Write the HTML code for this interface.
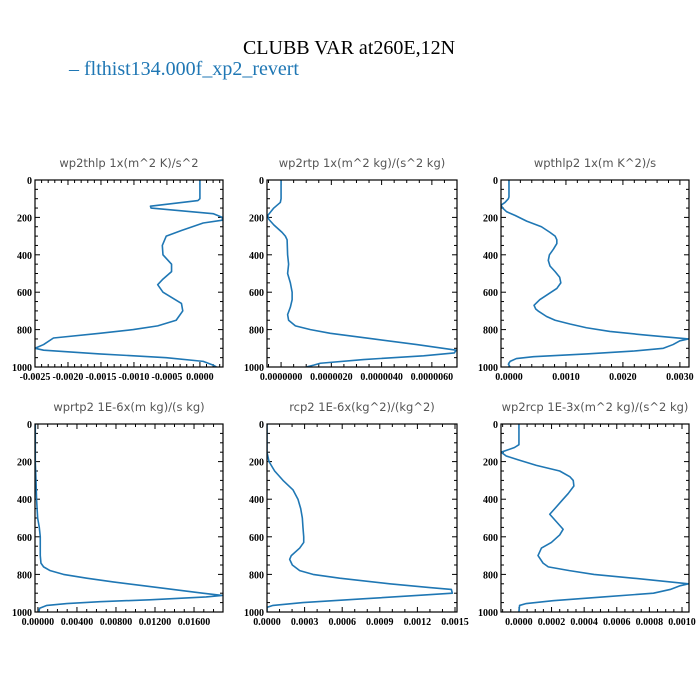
<!DOCTYPE html>
<html><head><meta charset="utf-8"><style>
html,body{margin:0;padding:0;background:#fff;}
svg{display:block;}
.ttl{font-family:"Liberation Serif",serif;font-size:20px;fill:#000;}
.leg{font-family:"Liberation Serif",serif;font-size:20px;fill:#1f77b4;}
.pt{font-family:"DejaVu Sans",sans-serif;font-size:11.5px;fill:#555;}
.tk{font-family:"Liberation Serif",serif;font-size:10px;font-weight:bold;fill:#000;}
</style></head><body>
<svg id="chart" width="700" height="700" viewBox="0 0 700 700" xmlns="http://www.w3.org/2000/svg">
<text class="ttl" x="349" y="54" text-anchor="middle">CLUBB VAR at260E,12N</text>
<text class="leg" x="69" y="75">– flthist134.000f_xp2_revert</text>
</svg>
<script>
const pressure1 = [0,100,110,140,150,180,200,215,230,270,300,350,400,450,490,530,560,600,660,700,750,780,800,820,845,880,900,910,930,950,970,990,1000];
const values1 = [0,0,-0.00003,-0.00075,-0.00074,0.0002,0.00034,0.00034,0.00005,-0.00028,-0.00051,-0.00057,-0.00056,-0.00043,-0.00043,-0.00056,-0.00064,-0.00056,-0.00028,-0.00026,-0.00036,-0.00064,-0.00101,-0.00152,-0.00222,-0.00237,-0.0025,-0.00237,-0.00152,-0.00051,0.00005,0.0002,0.00025];
const ticks1 = ["-0.0025","-0.0020","-0.0015","-0.0010","-0.0005","0.0000"];

const pressure2 = [0,100,120,150,190,210,240,280,300,320,400,450,500,550,600,640,680,720,750,780,800,820,850,880,910,925,940,960,980,990,1000];
const values2 = [0,0,-0.03e-6,-0.29e-6,-0.53e-6,-0.49e-6,-0.29e-6,0.04e-6,0.17e-6,0.24e-6,0.26e-6,0.3e-6,0.26e-6,0.37e-6,0.44e-6,0.44e-6,0.37e-6,0.26e-6,0.3e-6,0.57e-6,1.17e-6,1.96e-6,3.68e-6,5.4e-6,6.97e-6,6.89e-6,5.67e-6,3.28e-6,1.56e-6,1.3e-6,1.0e-6];
const ticks2 = ["0.0000000","0.0000020","0.0000040","0.0000060"];

const pressure3 = [0,90,100,120,135,150,170,190,220,250,280,300,320,340,370,400,430,460,490,520,550,580,610,640,670,690,700,730,750,770,790,810,830,850,860,880,900,915,930,945,955,970,985,1000];
const values3 = [0,0,-0.00001,-0.00007,-0.00014,-0.00011,-0.00004,0.00011,0.00031,0.00057,0.00072,0.00081,0.00084,0.00084,0.00078,0.00071,0.00069,0.00072,0.00081,0.00089,0.00091,0.00084,0.00069,0.00054,0.00044,0.00047,0.00051,0.00066,0.00081,0.00107,0.00136,0.00177,0.00242,0.00315,0.003,0.00288,0.00271,0.00218,0.00136,0.00043,0.00013,0.00002,-0.00001,0.00002];
const ticks3 = ["0.0000","0.0010","0.0020","0.0030"];

const pressure4 = [0,200,300,400,500,550,600,650,700,740,760,780,800,820,840,860,880,900,912,920,935,945,955,965,980,1000];
const values4 = [-0.00027,-0.00027,-0.0002,-0.00014,-0.00003,0.00014,0.00024,0.00024,0.00024,0.00031,0.00058,0.00126,0.00262,0.005,0.00772,0.01078,0.01384,0.0169,0.01888,0.01724,0.01146,0.00636,0.00296,0.00092,0.00017,0.0001];
const ticks4 = ["0.00000","0.00400","0.00800","0.01200","0.01600"];

const pressure5 = [0,150,200,250,300,350,400,450,500,550,600,630,660,700,720,750,780,800,820,850,870,880,900,910,930,950,965,975,1000];
const values5 = [0,0,0.000016,0.000061,0.000128,0.000207,0.000247,0.000269,0.000282,0.000287,0.000293,0.000293,0.000261,0.000194,0.000181,0.000202,0.000261,0.000367,0.00058,0.000979,0.001298,0.001471,0.001479,0.001245,0.000766,0.000287,0.000048,0,0];
const ticks5 = ["0.0000","0.0003","0.0006","0.0009","0.0012","0.0015"];

const pressure6 = [0,110,125,150,170,190,220,250,280,300,330,370,400,450,480,520,560,590,630,660,700,740,760,780,800,820,850,860,880,900,920,940,955,965,1000];
const values6 = [0,0,-0.000027,-0.000109,-0.000078,-0.000006,0.000107,0.00025,0.000312,0.000333,0.000337,0.000302,0.000271,0.00022,0.000189,0.00023,0.000271,0.00025,0.000199,0.000138,0.000117,0.000148,0.00018,0.00031,0.00046,0.0007,0.00104,0.00099,0.000928,0.000825,0.000517,0.000209,0.000045,0.000004,0];
const ticks6 = ["0.0000","0.0002","0.0004","0.0006","0.0008","0.0010"];

const yTicks = ["0","200","400","600","800","1000"];

const NS = "http://www.w3.org/2000/svg";
const svg = document.getElementById("chart");
function mk(tag, attrs, parent){
  const e = document.createElementNS(NS, tag);
  for (const k in attrs) e.setAttribute(k, attrs[k]);
  (parent||svg).appendChild(e);
  return e;
}
const panels = [
  {name:"wp2thlp", title:"wp2thlp  1x(m^2 K)/s^2", p:pressure1, v:values1, t:ticks1, x0:35, x1:223, y0:180, y1:367, xmin:-0.0025, xmax:0.00035, tstep:0.0005, tstart:-0.0025, minor:5},
  {name:"wp2rtp", title:"wp2rtp  1x(m^2 kg)/(s^2 kg)", p:pressure2, v:values2, t:ticks2, x0:267, x1:457, y0:180, y1:367, xmin:-0.56e-6, xmax:7.0e-6, tstep:2e-6, tstart:0, minor:4},
  {name:"wpthlp2", title:"wpthlp2  1x(m K^2)/s", p:pressure3, v:values3, t:ticks3, x0:501, x1:689, y0:180, y1:367, xmin:-0.00014, xmax:0.00316, tstep:0.001, tstart:0, minor:5},
  {name:"wprtp2", title:"wprtp2  1E-6x(m kg)/(s kg)", p:pressure4, v:values4, t:ticks4, x0:35, x1:223, y0:424, y1:612, xmin:-0.0003, xmax:0.01897, tstep:0.004, tstart:0, minor:4},
  {name:"rcp2", title:"rcp2  1E-6x(kg^2)/(kg^2)", p:pressure5, v:values5, t:ticks5, x0:267, x1:457, y0:424, y1:612, xmin:0, xmax:0.001516, tstep:0.0003, tstart:0, minor:3},
  {name:"wp2rcp", title:"wp2rcp  1E-3x(m^2 kg)/(s^2 kg)", p:pressure6, v:values6, t:ticks6, x0:501, x1:689, y0:424, y1:612, xmin:-0.00011, xmax:0.001043, tstep:0.0002, tstart:0, minor:4}
];
panels.forEach((P, idx) => {
  const g = mk("g", {});
  
  
  const xs = v => P.x0 + (v - P.xmin) / (P.xmax - P.xmin) * (P.x1 - P.x0);
  const ys = p => P.y0 + p / 1000 * (P.y1 - P.y0);
  const tt = mk("text", {class:"pt", x:(P.x0+P.x1)/2, y:P.y0-13, "text-anchor":"middle"}, g);
  tt.textContent = P.title;
  
  
  // y ticks
  for (let p = 0; p <= 1000; p += 50) {
    const major = p % 200 === 0;
    const L = major ? 5 : 3;
    const y = ys(p);
    mk("line", {x1:P.x0, x2:P.x0+L, y1:y, y2:y, stroke:"#000", "stroke-width":1}, g);
    mk("line", {x1:P.x1, x2:P.x1-L, y1:y, y2:y, stroke:"#000", "stroke-width":1}, g);
  }
  yTicks.forEach(lab => {
    const t = mk("text", {class:"tk", x:P.x0-3, y:ys(+lab)+4, "text-anchor":"end"}, g);
    t.textContent = lab;
    
    
  });
  // x ticks
  const mstep = P.tstep / P.minor;
  const kmin = Math.ceil((P.xmin - P.tstart) / mstep - 1e-6), kmax = Math.floor((P.xmax - P.tstart) / mstep + 1e-6);
  for (let k = kmin; k <= kmax; k++) {
    const v = P.tstart + k * mstep;
    const major = ((k % P.minor) + P.minor) % P.minor === 0;
    const L = major ? 5 : 3;
    const x = xs(v);
    mk("line", {x1:x, x2:x, y1:P.y1, y2:P.y1-L, stroke:"#000", "stroke-width":1}, g);
    mk("line", {x1:x, x2:x, y1:P.y0, y2:P.y0+L, stroke:"#000", "stroke-width":1}, g);
  }
  P.t.forEach((lab, i) => {
    const v = P.tstart + i * P.tstep;
    const t = mk("text", {class:"tk", x:xs(v), y:P.y1+13, "text-anchor":"middle"}, g);
    t.textContent = lab;
    
    
  });
  // clip + line
  const cp = mk("clipPath", {id:"clip"+idx}, g);
  mk("rect", {x:P.x0, y:P.y0, width:P.x1-P.x0, height:P.y1-P.y0}, cp);
  const d = P.p.map((p, i) => (i ? "L" : "M") + xs(P.v[i]).toFixed(2) + "," + ys(p).toFixed(2)).join(" ");
  const path = mk("path", {d:d, fill:"none", stroke:"#1f77b4", "stroke-width":1.6, "stroke-linejoin":"round", "clip-path":"url(#clip"+idx+")"}, g);
  
  
  const frame = mk("rect", {x:P.x0, y:P.y0, width:P.x1-P.x0, height:P.y1-P.y0, fill:"none", stroke:"#000", "stroke-width":1.2}, g);
  
  
});
</script>
</body></html>
